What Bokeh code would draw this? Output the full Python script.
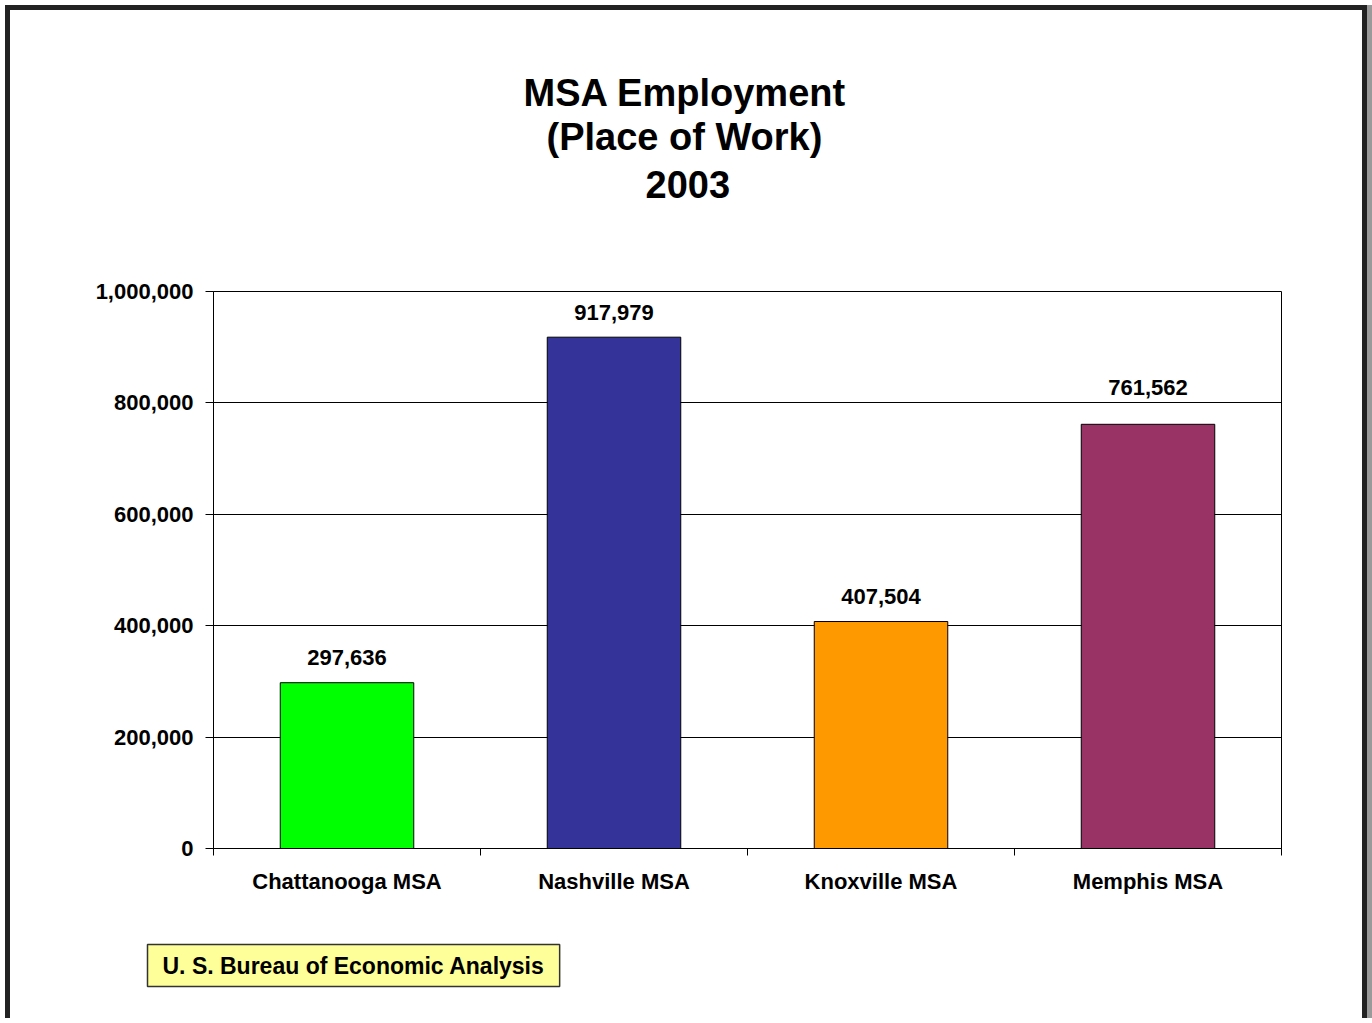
from bokeh.plotting import figure
from bokeh.models import (ColumnDataSource, Range1d, FixedTicker, NumeralTickFormatter,
                          LabelSet, Title)
from bokeh.core.properties import value
from bokeh.embed import file_html
from bokeh.resources import INLINE

categories = ["Chattanooga MSA", "Nashville MSA", "Knoxville MSA", "Memphis MSA"]
values = [297636, 917979, 407504, 761562]
bar_colors = ["#00FF00", "#333399", "#FF9900", "#993366"]
y_ticks = [0, 200000, 400000, 600000, 800000, 1000000]
title_lines = ["MSA Employment", "(Place of Work)", "2003"]
source_note = "U. S. Bureau of Economic Analysis"

# label placement (style): pixels above each bar top
label_offsets = [25, 25, 25, 37]
# left edge of each title line in page pixels (style)
title_left = [523, 546, 645]

FONT = "Liberation Sans"

# canvas starts at page (10, 10) because of margin + border
OX, OY = 10, 10
W, H = 1362, 1013
FL, FT, FR, FB = 213 - OX, 291 - OY, 1281 - OX, 848 - OY

xpos = [i + 0.5 for i in range(len(categories))]
src = ColumnDataSource(dict(
    x=xpos, cat=categories, val=values, color=bar_colors,
    lbl=[f"{v:,}" for v in values], yoff=label_offsets,
))

p = figure(width=W, height=H, output_backend="svg", toolbar_location=None,
           x_range=Range1d(0, len(categories)), y_range=Range1d(0, 1000000),
           min_border_left=FL, min_border_right=W - FR, min_border_top=FT,
           min_border_bottom=H - FB, background_fill_color="white",
           border_fill_color="white")
p.styles = {"margin-left": "5px", "margin-top": "5px",
            "border-left": "5px solid #222222", "border-top": "5px solid #222222",
            "border-right": "5px solid #222222",
            "box-shadow": "5px 0px 0px #9a9a9a"}

p.vbar(x="x", top="val", width=0.5, bottom=0, source=src, fill_color="color",
       line_color="black", line_width=1)

p.outline_line_color = "black"
p.outline_line_width = 1
p.xgrid.visible = False
p.ygrid.grid_line_color = "black"
p.ygrid.grid_line_width = 1
p.ygrid.ticker = FixedTicker(ticks=y_ticks)

# y axis
p.yaxis.ticker = FixedTicker(ticks=y_ticks)
p.yaxis.formatter = NumeralTickFormatter(format="0,0")
p.yaxis.major_tick_out = 8
p.yaxis.major_tick_in = 0
p.yaxis.minor_tick_out = 0
p.yaxis.minor_tick_in = 0
p.yaxis.major_label_standoff = 12
p.yaxis.axis_line_color = "black"
p.yaxis.major_tick_line_color = "black"
p.yaxis.major_label_text_font = FONT
p.yaxis.major_label_text_font_style = "bold"
p.yaxis.major_label_text_font_size = "22px"
p.yaxis.major_label_text_color = "black"

# x axis: labels at category centers, tick marks at boundaries
p.xaxis.ticker = FixedTicker(ticks=xpos, minor_ticks=list(range(len(categories) + 1)))
p.xaxis.major_label_overrides = {x: c for x, c in zip(xpos, categories)}
p.xaxis.major_tick_out = 0
p.xaxis.major_tick_in = 0
p.xaxis.minor_tick_out = 7
p.xaxis.minor_tick_in = 0
p.xaxis.minor_tick_line_color = "black"
p.xaxis.major_label_standoff = 13
p.xaxis.axis_line_color = "black"
p.xaxis.major_label_text_font = FONT
p.xaxis.major_label_text_font_style = "bold"
p.xaxis.major_label_text_font_size = "22px"
p.xaxis.major_label_text_color = "black"

# value labels
p.add_layout(LabelSet(x="x", y="val", text="lbl", source=src, text_align="center",
                      text_baseline="middle", y_offset="yoff", text_font=value(FONT),
                      text_font_style="bold", text_font_size="22px", text_color="black"))


def spacer(px):
    return Title(text=" ", text_font_size="1px", standoff=px)


# title block: panels listed from the frame outward
p.add_layout(spacer(91), "above")
lines = list(zip(title_lines, title_left))
for k, (t, left) in enumerate(reversed(lines)):
    if k == 1:
        p.add_layout(spacer(8), "above")
    p.add_layout(Title(text=t, align="left", offset=left - 213, standoff=0,
                       text_font=FONT, text_font_style="bold", text_font_size="38px",
                       text_color="black"), "above")

# source note
p.add_layout(spacer(12), "below")
p.add_layout(Title(text=source_note, align="left", offset=147 - 213, standoff=62,
                   text_font=FONT, text_font_style="bold", text_font_size="23px",
                   text_color="black", background_fill_color="#FFFF99",
                   border_line_color="#333333", border_line_width=1.5,
                   padding=(15, 8)), "below")

open("out.html", "w").write(file_html(p, INLINE))
